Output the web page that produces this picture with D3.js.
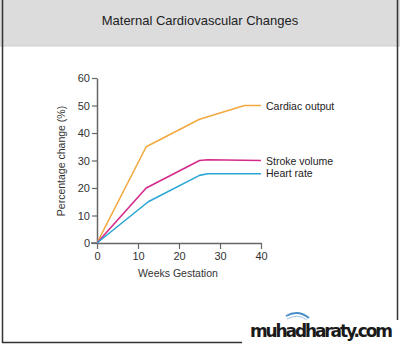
<!DOCTYPE html>
<html><head><meta charset="utf-8">
<script src="https://cdn.jsdelivr.net/npm/d3@7"></script>
<style>html,body{margin:0;padding:0;background:#fff;}svg{display:block;}</style>
</head><body>
<script>
const title = "Maternal Cardiovascular Changes";
const xTicks = [0,10,20,30,40];
const yTicks = [0,10,20,30,40,50,60];
const seriesNames = ["Cardiac output","Stroke volume","Heart rate"];
const seriesColors = ["#f2a93f","#d42a8c","#2aa6d6"];
const coWeeks = [0,12,25,36,40];
const coValues = [0,35,45,50,50];
const svWeeks = [0,12,25,27,40];
const svValues = [0,20,30,30.3,30];
const hrWeeks = [0,12.5,25,27,40];
const hrValues = [0,15,24.6,25.2,25.2];
const labelYs = [50,30,25.5];

const W=400,H=345;
const svg=d3.select("body").append("svg").attr("width",W).attr("height",H);
const font="Liberation Sans, Arial, Helvetica, sans-serif";

svg.append("rect").attr("x",0).attr("y",0).attr("width",W).attr("height",46).attr("fill","#dcdcdd");
svg.append("line").attr("x1",0).attr("x2",W).attr("y1",46).attr("y2",46).attr("stroke","#cfcfd2");
svg.append("text").attr("x",200).attr("y",25).attr("text-anchor","middle")
  .attr("font-family",font).attr("font-size",13).attr("fill","#222").text(title);

svg.append("line").attr("x1",2.5).attr("x2",2.5).attr("y1",0).attr("y2",343).attr("stroke","#333").attr("stroke-width",1.5);
svg.append("line").attr("x1",397.5).attr("x2",397.5).attr("y1",0).attr("y2",320).attr("stroke","#333").attr("stroke-width",1.5);
svg.append("line").attr("x1",2).attr("x2",242).attr("y1",342.5).attr("y2",342.5).attr("stroke","#333").attr("stroke-width",1.5);

const x=d3.scaleLinear().domain([0,40]).range([97,261]);
const y=d3.scaleLinear().domain([0,60]).range([243,78]);

const axColor="#666";
const gx=svg.append("g").attr("transform","translate(0,243)")
  .call(d3.axisBottom(x).tickValues(xTicks).tickSize(6).tickSizeOuter(0).tickPadding(3));
const gy=svg.append("g").attr("transform","translate(97,0)")
  .call(d3.axisLeft(y).tickValues(yTicks).tickSize(5).tickSizeOuter(0).tickPadding(2));
[gx,gy].forEach(g=>{
  g.select(".domain").attr("stroke",axColor).attr("stroke-width",1.5);
  g.selectAll(".tick line").attr("stroke",axColor).attr("stroke-width",1.2);
  g.selectAll(".tick text").attr("font-family",font).attr("font-size",11).attr("fill","#333");
});
svg.append("line").attr("x1",91).attr("x2",97).attr("y1",243).attr("y2",243).attr("stroke",axColor).attr("stroke-width",1.5);

svg.append("text").attr("x",178).attr("y",277).attr("text-anchor","middle")
  .attr("font-family",font).attr("font-size",10.5).attr("fill","#333").text("Weeks Gestation");
svg.append("text").attr("transform","translate(65,161) rotate(-90)").attr("text-anchor","middle")
  .attr("font-family",font).attr("font-size",10.5).attr("fill","#333").text("Percentage change (%)");

const series=[[coWeeks,coValues],[svWeeks,svValues],[hrWeeks,hrValues]];
const line=d3.line().x(d=>x(d[0])).y(d=>y(d[1]));
series.forEach((s,i)=>{
  const pts=s[0].map((w,j)=>[w,s[1][j]]);
  svg.append("path").attr("d",line(pts)).attr("fill","none")
    .attr("stroke",seriesColors[i]).attr("stroke-width",1.6).attr("stroke-linejoin","round");
  svg.append("text").attr("x",x(40)+5).attr("y",y(labelYs[i])+4)
    .attr("font-family",font).attr("font-size",10.5).attr("fill","#222").text(seriesNames[i]);
});

svg.append("rect").attr("x",243).attr("y",322).attr("width",157).attr("height",23).attr("fill","#fff");
svg.append("path").attr("d","M286,316 Q298,309 309,318").attr("fill","none").attr("stroke","#4a8fc8").attr("stroke-width",2);
svg.append("path").attr("d","M287,319 Q298,313 307,320").attr("fill","none").attr("stroke","#9cc3e4").attr("stroke-width",1);
svg.append("text").attr("x",250).attr("y",337).attr("font-family","DejaVu Sans, sans-serif")
  .attr("font-size",17).attr("font-weight","600").attr("fill","#1a1a1a").attr("textLength",143).text("muhadharaty.com");
</script>
</body></html>
